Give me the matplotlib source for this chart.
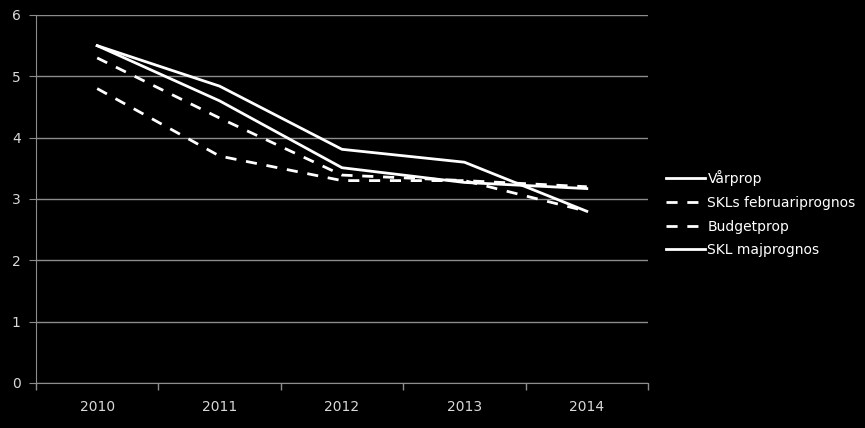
import matplotlib.pyplot as plt
from matplotlib.ticker import FixedLocator

years = ['2010', '2011', '2012', '2013', '2014']
varprop = [5.5, 4.84, 3.81, 3.6, 2.8]
skl_feb = [4.8, 3.7, 3.3, 3.3, 3.2]
budgetprop = [5.3, 4.32, 3.39, 3.3, 2.8]
skl_maj = [5.5, 4.6, 3.51, 3.27, 3.17]

fg = '#d9d9d9'
grid = '#8c8c8c'

fig = plt.figure(figsize=(8.65, 4.28), dpi=100, facecolor='black')
ax = fig.add_axes([36 / 865, 1 - 383 / 428, 612 / 865, 368 / 428], facecolor='black')

x = list(range(len(years)))
ax.plot(x, varprop, color='white', lw=2, label='Vårprop')
ax.plot(x, skl_feb, color='white', lw=2, dashes=(4, 3.5), label='SKLs februariprognos')
ax.plot(x, budgetprop, color='white', lw=2, dashes=(4, 3.5), label='Budgetprop')
ax.plot(x, skl_maj, color='white', lw=2, label='SKL majprognos')

ax.set_xlim(-0.5, len(years) - 0.5)
ax.set_ylim(0, 6)
ax.set_yticks(range(7))
ax.set_xticks(x)
ax.set_xticklabels(years)
ax.xaxis.set_minor_locator(FixedLocator([i - 0.5 for i in range(len(years) + 1)]))
ax.tick_params(axis='x', which='major', length=0, pad=12, colors=fg, labelsize=10)
ax.tick_params(axis='x', which='minor', direction='out', length=5, width=1, color=grid)
ax.tick_params(axis='y', direction='out', length=5, color=grid, colors=fg, labelsize=10, pad=6)
ax.yaxis.grid(True, color=grid, lw=1)
ax.set_axisbelow(True)
for side in ['top', 'right']:
    ax.spines[side].set_visible(False)
for side in ['left', 'bottom']:
    ax.spines[side].set_color(grid)

leg = ax.legend(loc='center left', bbox_to_anchor=(1.02, 0.46), frameon=False,
                fontsize=10, labelcolor='white', handlelength=2.8, handletextpad=0.2,
                labelspacing=0.7, borderaxespad=0)

fig.savefig('out.png', dpi=100, facecolor='black')
